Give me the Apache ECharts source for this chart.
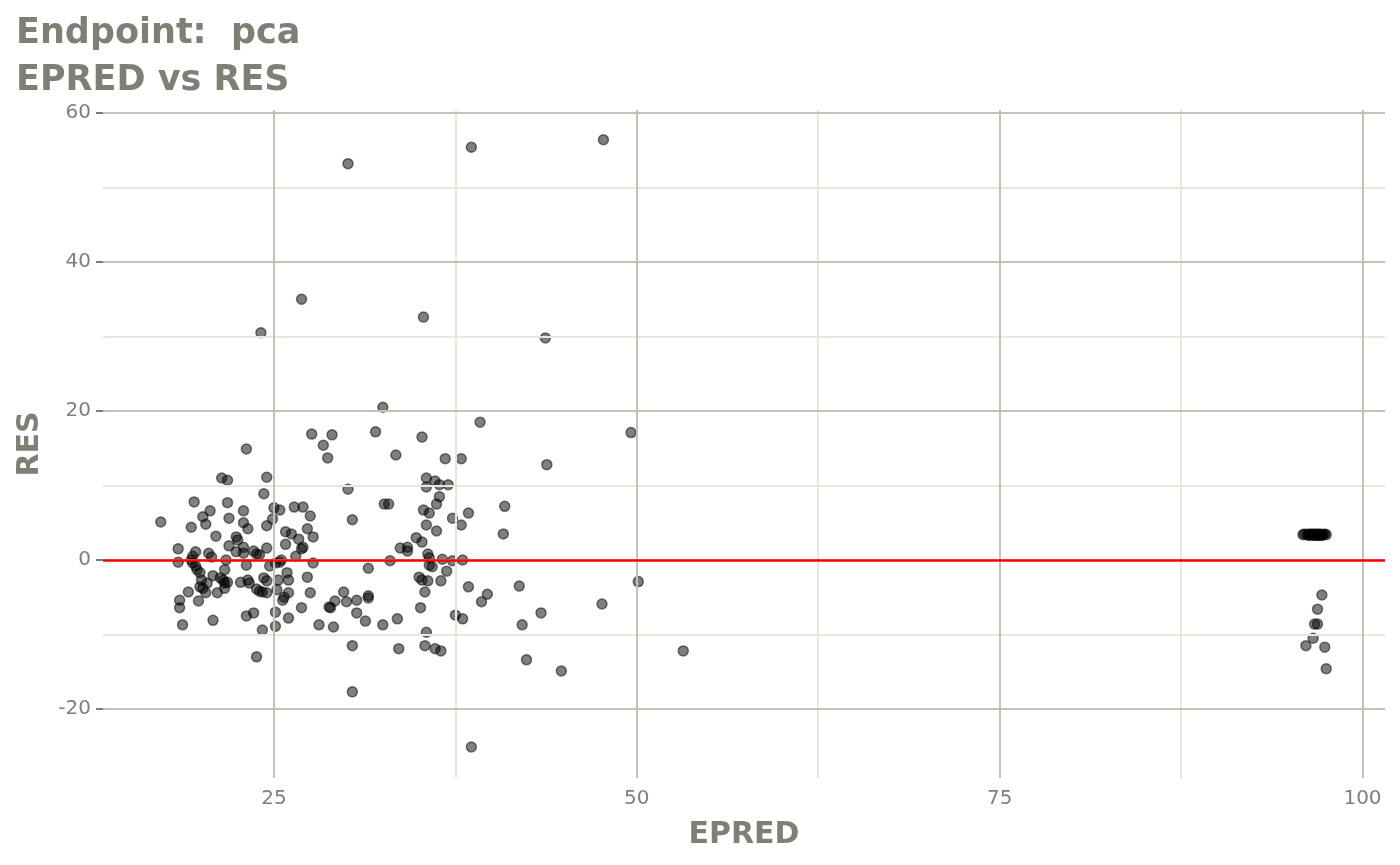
<!DOCTYPE html>
<html>
<head>
<meta charset="utf-8">
<script src="https://cdn.jsdelivr.net/npm/echarts@6/dist/echarts.min.js"></script>
<style>html,body{margin:0;padding:0;background:#fff}#c{width:1400px;height:865px}</style>
</head>
<body>
<div id="c"></div>
<script>
// EPRED / RES pairs
const epredMain = [30.1,38.6,47.7,26.9,24.1,35.3,43.7,32.5,39.2,49.6,27.6,29.0,32.0,35.2,28.4,23.1,28.7,33.4,36.8,37.9,43.8,21.4,21.8,24.5,35.5,36.1,35.5,36.4,37.0,30.1,24.3,36.4,19.5,21.8,36.2,32.6,32.9,35.3,35.7,38.4,40.9,30.4,37.3,35.5,37.9,36.2,40.8,34.8,35.2,33.7,34.2,34.2,35.6,35.7,36.6,37.3,38.0,33.0,31.5,35.7,35.9,36.9,35.0,35.2,35.6,36.5,38.4,41.9,39.7,39.3,35.4,29.8,29.2,30.0,30.7,31.5,31.5,28.9,30.7,35.1,37.5,38.0,31.3,32.5,33.5,29.1,35.5,42.1,30.4,33.6,35.4,36.1,36.5,42.4,50.1,47.6,43.4,53.2,44.8,38.6,30.4,23.8];
const resMain   = [53.2,55.4,56.4,35.0,30.5,32.6,29.8,20.5,18.5,17.1,16.9,16.8,17.2,16.5,15.4,14.9,13.7,14.1,13.6,13.6,12.8,11.0,10.7,11.1,11.0,10.6,9.8,10.1,10.1,9.5,8.9,8.5,7.8,7.7,7.5,7.5,7.5,6.7,6.3,6.3,7.2,5.4,5.6,4.7,4.7,3.9,3.5,3.0,2.4,1.6,1.7,1.2,0.8,0.3,0.1,-0.1,0.0,-0.1,-1.1,-0.7,-0.9,-1.5,-2.3,-2.7,-2.8,-2.8,-3.6,-3.5,-4.6,-5.6,-4.3,-4.3,-5.5,-5.6,-5.4,-4.8,-5.1,-6.4,-7.1,-6.4,-7.4,-7.9,-8.2,-8.7,-7.9,-9.0,-9.7,-8.7,-11.5,-11.9,-11.5,-11.9,-12.2,-13.4,-2.9,-5.9,-7.1,-12.2,-14.9,-25.1,-17.7,-13.0];

const epredLow = [20.6,20.1,20.3,17.2,19.3,21.9,22.9,22.9,23.2,21.0,25.0,25.4,24.9,24.5,26.4,27.0,27.5,25.8,26.2,26.7,27.3,27.7,25.8,26.5,26.9,27.0,27.7,22.4,22.5,21.9,22.9,24.5,18.4,19.6,19.4,19.3,19.4,20.5,20.7,21.7,21.6,22.4,22.9,23.6,23.8,24.0,23.1,24.7,25.1,25.4,25.5,18.4,19.6,19.7,19.9,20.0,20.4,20.8,21.3,21.5,21.6,22.7,23.2,23.3,21.6,21.1,20.3,19.1,19.9,20.1,21.8,24.3,24.5,24.2,24.5,23.8,24.0,25.3,25.2,25.7,26.0,25.9,26.0,25.6,27.3,27.5,26.9,25.1,26.0,25.1,24.2,23.1,23.6,18.5,18.5,19.8,18.7,20.8,28.1,28.8];
const resLow   = [6.6,5.8,4.8,5.1,4.4,5.6,6.6,5.0,4.2,3.2,7.0,6.7,5.5,4.6,7.1,7.1,5.9,3.8,3.5,2.8,4.2,3.1,2.1,0.5,1.5,1.7,-0.4,3.1,2.7,1.9,1.7,1.6,1.5,1.1,0.5,0.0,-0.4,0.9,0.4,0.0,-1.3,1.1,0.9,1.2,0.8,0.7,-0.7,-0.8,-0.4,-0.3,0.0,-0.3,-0.8,-1.3,-1.7,-2.7,-3.1,-2.1,-2.4,-2.7,-3.1,-3.0,-2.7,-3.1,-3.8,-4.4,-4.4,-4.3,-3.6,-3.8,-3.0,-2.4,-2.8,-4.3,-4.4,-3.9,-4.2,-2.7,-4.0,-5.0,-2.7,-1.7,-4.4,-5.4,-2.3,-4.4,-6.4,-7.0,-7.8,-8.9,-9.4,-7.5,-7.1,-5.4,-6.4,-5.5,-8.7,-8.1,-8.7,-6.3];

const epredHigh = [95.9,96.0,96.2,96.3,96.3,96.4,96.5,96.6,96.6,96.7,96.8,96.8,96.9,96.9,97.0,97.0,97.1,97.2,97.2,97.3,97.4,97.5,97.2,96.9,96.7,96.9,96.6,96.1,97.4,97.5];
const resHigh   = [3.4,3.5,3.4,3.3,3.5,3.4,3.5,3.3,3.4,3.5,3.4,3.3,3.5,3.4,3.4,3.3,3.5,3.4,3.3,3.4,3.5,3.4,-4.7,-6.6,-8.6,-8.6,-10.5,-11.5,-11.7,-14.6];

const xTicks = [25, 50, 75, 100];
const yTicks = [-20, 0, 20, 40, 60];
const xMinor = [37.5, 62.5, 87.5];
const yMinor = [-10, 10, 30, 50];
const refLine = 0;

const pts = [];
[[epredMain,resMain],[epredLow,resLow],[epredHigh,resHigh]].forEach(([xs,ys]) => {
  xs.forEach((x,i) => pts.push([x, ys[i]]));
});

const majorC = '#c2c2b6', minorC = '#e7e7db';
const gridLines = [];
xMinor.forEach(v => gridLines.push({xAxis: v, lineStyle: {color: minorC, width: 2, type: 'solid'}}));
yMinor.forEach(v => gridLines.push({yAxis: v, lineStyle: {color: minorC, width: 2, type: 'solid'}}));
xTicks.forEach(v => gridLines.push({xAxis: v, lineStyle: {color: majorC, width: 2, type: 'solid'}}));
yTicks.forEach(v => gridLines.push({yAxis: v, lineStyle: {color: majorC, width: 2, type: 'solid'}}));

const font = 'DejaVu Sans';
const chart = echarts.init(document.getElementById('c'), null, {renderer: 'canvas'});
chart.setOption({
  animation: false,
  backgroundColor: '#ffffff',
  title: {
    text: 'Endpoint:  pca\nEPRED vs RES',
    left: 11, top: 5,
    textStyle: {fontFamily: font, fontWeight: 'bold', fontSize: 35, color: '#7f7f76', lineHeight: 47}
  },
  grid: {left: 103, right: 15, top: 110, bottom: 87, containLabel: false},
  xAxis: {
    type: 'value', min: 13.22, max: 101.55,
    name: 'EPRED', nameLocation: 'middle', nameGap: 42,
    nameTextStyle: {fontFamily: font, fontWeight: 'bold', fontSize: 30, color: '#7f7f76'},
    axisLine: {show: false},
    axisTick: {show: true, customValues: xTicks, length: 7, lineStyle: {color: '#7a7a7a', width: 2}},
    axisLabel: {customValues: xTicks, fontFamily: font, fontSize: 20, color: '#7f7f7f', margin: 11},
    splitLine: {show: false}
  },
  yAxis: {
    type: 'value', min: -29.26, max: 60.4,
    name: 'RES', nameLocation: 'middle', nameGap: 58,
    nameTextStyle: {fontFamily: font, fontWeight: 'bold', fontSize: 30, color: '#7f7f76'},
    axisLine: {show: false},
    axisTick: {show: true, customValues: yTicks, length: 7, lineStyle: {color: '#7a7a7a', width: 2}},
    axisLabel: {customValues: yTicks, fontFamily: font, fontSize: 20, color: '#7f7f7f', margin: 12},
    splitLine: {show: false}
  },
  series: [
    {
      type: 'scatter', data: [], z: 1, silent: true,
      markLine: {silent: true, symbol: ['none','none'], label: {show: false}, animation: false, data: gridLines}
    },
    {
      type: 'scatter', data: pts, z: 2, symbolSize: 10,
      itemStyle: {color: 'rgba(0,0,0,0.5)', borderColor: 'rgba(0,0,0,0.5)', borderWidth: 1.5, opacity: 1}
    },
    {
      type: 'scatter', data: [], z: 3, silent: true,
      markLine: {silent: true, symbol: ['none','none'], label: {show: false}, animation: false,
        data: [{yAxis: refLine, lineStyle: {color: '#ff0000', width: 2.5, type: 'solid'}}]}
    }
  ]
});
</script>
</body>
</html>
